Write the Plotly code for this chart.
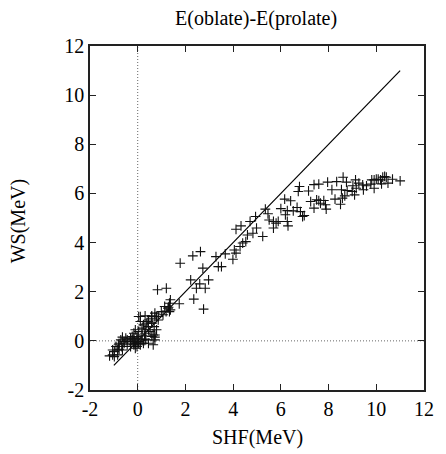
import plotly.graph_objects as go

# SHF (x) vs WS (y) energy differences, MeV
shf = [
    9.81, 9.91, 10.0, 10.08, 10.18, 10.27, 10.35, 10.42, 10.49, 10.68, 11.0, 10.22,
    8.61, 8.34, 7.96, 9.13, 8.75, 9.02, 9.27, 9.43, 9.59, 9.77, 9.91, 9.46, 9.16,
    8.99, 8.78, 8.54, 8.14, 8.68, 8.58, 8.27, 8.5, 9.09, 7.59, 7.39, 7.16, 6.78,
    6.73, 6.41, 6.16, 6.0, 6.27, 6.52, 6.68, 6.82, 6.98, 6.91, 6.19, 6.27, 6.3,
    5.89, 5.8, 7.25, 7.5, 7.59, 7.66, 7.8, 7.87, 7.9, 7.39,
    5.35, 5.46, 5.51, 5.69, 5.69,
    4.94, 4.71, 4.33, 4.12, 4.98, 4.83, 4.6, 5.24, 4.53, 4.4, 4.29, 4.05, 4.12,
    3.99, 3.67, 3.28, 3.38, 3.51, 2.73, 2.63, 2.31, 1.78, 2.22, 2.97, 2.6, 2.46,
    2.83, 2.35, 2.76, 1.74, 0.83, 1.2, 1.37, 1.13, 1.27, 1.33, 0.72, 0.58, 0.86,
    1.06, 1.33, 0.99,
    0.79, 0.86, 0.58, 0.45, 0.38, 0.24, 0.11, 0.04, 0.18, 0.31, 0.45, 0.52, 0.65,
    0.72, 0.58, 0.29, 0.34, 0.04, -0.10, -0.16, -0.23, -0.30, -0.12, 0.04, 0.11,
    -0.03, -0.16, -0.30, -0.44, -0.50, -0.64, -0.71, -0.80, -0.91, -1.05, -1.18,
    -0.98, -0.84, -0.67, -0.57, -0.44, -0.30, -0.10, 0.01, 0.18, 0.24, -0.03,
    1.29, 1.37, 1.19, 0.72, 0.59, 0.11, 0.31, 0.45, 0.59, 0.69, 0.79, 0.45, 0.31,
    0.18, -0.03, -0.16, -0.23, -0.10, 0.04, 0.31, 0.59, 0.72, -0.57, -0.78,
    -0.98, -0.78, -0.64, -1.05, -0.84, -0.16, 0.65, 0.45, 0.72,
]
ws = [
    6.55, 6.55, 6.58, 6.58, 6.55, 6.66, 6.69, 6.66, 6.42, 6.58, 6.51, 6.39,
    6.66, 6.48, 6.46, 6.55, 6.46, 6.31, 6.42, 6.35, 6.31, 6.38, 6.21, 6.15, 6.21,
    6.08, 6.12, 6.15, 6.15, 5.9, 5.81, 5.77, 5.56, 5.94, 6.38, 6.36, 6.1, 6.28,
    6.08, 5.7, 5.77, 5.38, 5.3, 5.29, 5.43, 5.26, 5.1, 5.06, 5.13, 4.86, 4.68,
    4.86, 4.79, 5.67, 5.74, 5.71, 5.6, 5.71, 5.54, 5.36, 5.4,
    5.36, 5.17, 4.92, 4.86, 4.59,
    5.06, 4.86, 4.68, 4.54, 4.59, 4.38, 4.31, 4.25, 4.04, 3.98, 3.84, 3.7, 3.57,
    3.32, 3.54, 3.43, 3.02, 3.02, 2.96, 3.63, 3.46, 3.16, 2.48, 2.48, 2.32, 2.14,
    2.14, 1.7, 1.29, 1.51, 2.08, 2.14, 1.67, 1.4, 1.33, 1.19, 1.13, 0.99, 0.99,
    1.06, 1.53, 1.19,
    0.99, 0.85, 0.92, 0.85, 0.72, 0.65, 0.79, 0.99, 0.52, 0.45, 0.58, 0.38, 0.24,
    0.15, 0.72, 0.20, 0.04, 0.38, 0.45, 0.31, 0.18, 0.11, -0.03, -0.10, -0.16,
    -0.23, -0.10, -0.03, 0.04, 0.11, 0.15, 0.04, -0.16, -0.23, -0.37, -0.61,
    -0.64, -0.37, -0.23, -0.10, -0.16, -0.23, -0.30, -0.03, 0.04, -0.10, 0.11,
    1.37, 1.26, 1.19, 0.99, 1.02, 0.99, 1.02, 0.79, 0.72, 0.58, 0.45, 0.45, 0.31,
    0.24, 0.18, 0.11, 0.04, -0.10, -0.03, 0.07, 0.18, 0.24, -0.03, -0.10,
    -0.44, -0.34, -0.37, -0.57, -0.57, -0.16, -0.16, -0.10, 0.04,
]

diag = [-1, 11]          # y = x reference line extent
axis_range = [-2, 12]
tick_vals = [-2, 0, 2, 4, 6, 8, 10, 12]
tick_text = ["-2", "0", "2", "4", "6", "8", "10", "12"]
zero = [0, 0]

FONT = "Liberation Serif"

fig = go.Figure()

# dotted zero lines
fig.add_trace(go.Scatter(x=zero, y=axis_range, mode="lines",
                         line=dict(color="#666", width=1, dash="1px,2px"),
                         hoverinfo="skip", showlegend=False))
fig.add_trace(go.Scatter(x=axis_range, y=zero, mode="lines",
                         line=dict(color="#666", width=1, dash="1px,2px"),
                         hoverinfo="skip", showlegend=False))
# diagonal
fig.add_trace(go.Scatter(x=diag, y=diag, mode="lines",
                         line=dict(color="black", width=1.2),
                         showlegend=False))
# data
fig.add_trace(go.Scatter(x=shf, y=ws, mode="markers",
                         marker=dict(symbol="cross-thin", size=7,
                                     line=dict(color="#111", width=1.1)),
                         showlegend=False))

axis_common = dict(range=axis_range, tickvals=tick_vals, ticktext=tick_text,
                   ticks="inside", ticklen=6, tickwidth=1, tickcolor="#222",
                   showline=True, linecolor="#222", linewidth=1.5,
                   mirror="ticks", showgrid=False, zeroline=False,
                   tickfont=dict(family=FONT, size=20, color="black"))

fig.update_layout(
    width=446, height=454,
    margin=dict(l=90, r=13, t=46, b=64),
    paper_bgcolor="white", plot_bgcolor="white",
    xaxis=dict(**axis_common),
    yaxis=dict(**axis_common),
    font=dict(family=FONT, size=20, color="black"),
    annotations=[
        dict(text="E(oblate)-E(prolate)", xref="paper", yref="paper",
             x=0.497, y=1.081, xanchor="center", yanchor="middle",
             showarrow=False, font=dict(family=FONT, size=20)),
        dict(text="SHF(MeV)", xref="paper", yref="paper",
             x=0.5, y=-0.137, xanchor="center", yanchor="middle",
             showarrow=False, font=dict(family=FONT, size=20)),
        dict(text="WS(MeV)", xref="paper", yref="paper",
             x=-0.213, y=0.49, xanchor="center", yanchor="middle",
             textangle=-90, showarrow=False, font=dict(family=FONT, size=20)),
    ],
)

fig.write_html("out.html",
               config={"displayModeBar": False},
               post_script="document.body.style.margin='0';"
                           "document.body.style.overflow='hidden';")
